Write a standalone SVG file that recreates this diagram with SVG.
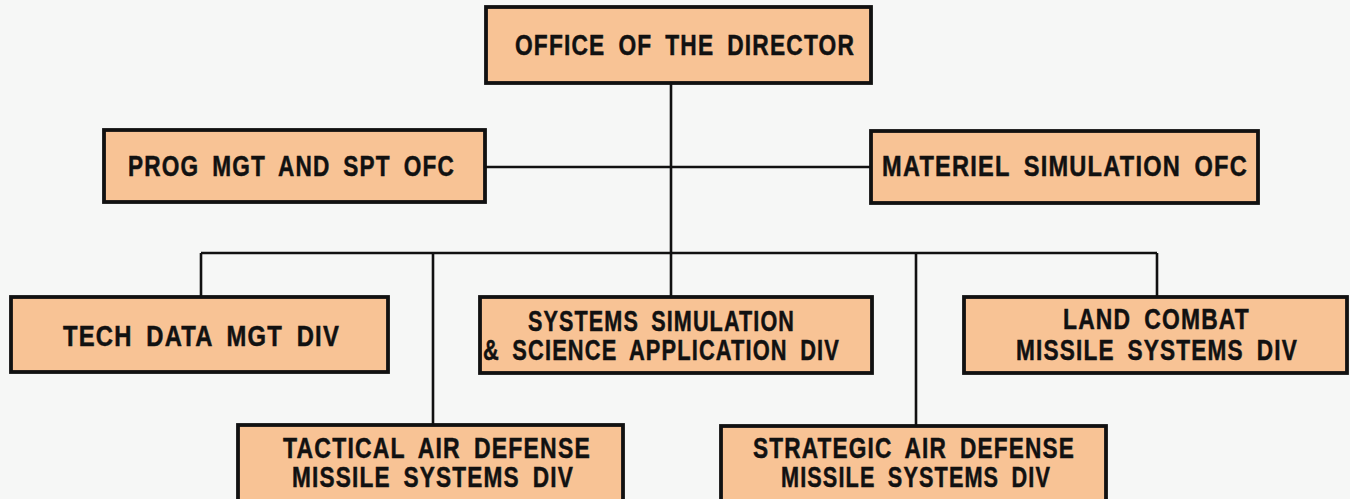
<svg xmlns="http://www.w3.org/2000/svg" width="1350" height="499" viewBox="0 0 1350 499">
<style>
.box{fill:#f8c395;stroke:#111;stroke-width:3.8;}
.t{font-family:"Liberation Sans",Arial,sans-serif;font-weight:bold;font-size:29px;fill:#111;stroke:#111;stroke-width:0.5;letter-spacing:1.5px;word-spacing:7px;}
.ln{stroke:#111;stroke-width:2.6;fill:none;}
</style>
<rect width="1350" height="499" fill="#f6f7f6"/>
<g id="connectors">
<line class="ln" x1="671" y1="83" x2="671" y2="298"/>
<line class="ln" x1="485" y1="167" x2="871" y2="167"/>
<line class="ln" x1="201" y1="253" x2="1157" y2="253"/>
<line class="ln" x1="201" y1="253" x2="201" y2="297"/>
<line class="ln" x1="433" y1="253" x2="433" y2="425"/>
<line class="ln" x1="916" y1="253" x2="916" y2="426"/>
<line class="ln" x1="1157" y1="253" x2="1157" y2="297"/>
</g>
<g id="director">
<rect class="box" x="486" y="7" width="385" height="76"/>
<text class="t" x="515" y="55" textLength="340" lengthAdjust="spacingAndGlyphs">OFFICE OF THE DIRECTOR</text>
</g>
<g id="prog">
<rect class="box" x="104" y="130" width="381" height="72"/>
<text class="t" x="128" y="176" textLength="327" lengthAdjust="spacingAndGlyphs">PROG MGT AND SPT OFC</text>
</g>
<g id="materiel">
<rect class="box" x="871" y="131" width="387" height="72"/>
<text class="t" x="882" y="176" textLength="366" lengthAdjust="spacingAndGlyphs">MATERIEL SIMULATION OFC</text>
</g>
<g id="techdata">
<rect class="box" x="11" y="297" width="377" height="75"/>
<text class="t" x="63" y="346" textLength="277" lengthAdjust="spacingAndGlyphs">TECH DATA MGT DIV</text>
</g>
<g id="systems">
<rect class="box" x="480" y="297" width="392" height="76"/>
<text class="t" x="528" y="331" textLength="267" lengthAdjust="spacingAndGlyphs">SYSTEMS SIMULATION</text>
<text class="t" x="483" y="360" textLength="357" lengthAdjust="spacingAndGlyphs">&amp; SCIENCE APPLICATION DIV</text>
</g>
<g id="landcombat">
<rect class="box" x="964" y="297" width="383" height="76"/>
<text class="t" x="1063" y="329" textLength="187" lengthAdjust="spacingAndGlyphs">LAND COMBAT</text>
<text class="t" x="1016" y="360" textLength="282" lengthAdjust="spacingAndGlyphs">MISSILE SYSTEMS DIV</text>
</g>
<g id="tactical">
<rect class="box" x="238" y="425" width="385" height="90"/>
<text class="t" x="283" y="458" textLength="308" lengthAdjust="spacingAndGlyphs">TACTICAL AIR DEFENSE</text>
<text class="t" x="292" y="487" textLength="282" lengthAdjust="spacingAndGlyphs">MISSILE SYSTEMS DIV</text>
</g>
<g id="strategic">
<rect class="box" x="721" y="426" width="385" height="90"/>
<text class="t" x="753" y="458" textLength="322" lengthAdjust="spacingAndGlyphs">STRATEGIC AIR DEFENSE</text>
<text class="t" x="781" y="487" textLength="270" lengthAdjust="spacingAndGlyphs">MISSILE SYSTEMS DIV</text>
</g>
</svg>
